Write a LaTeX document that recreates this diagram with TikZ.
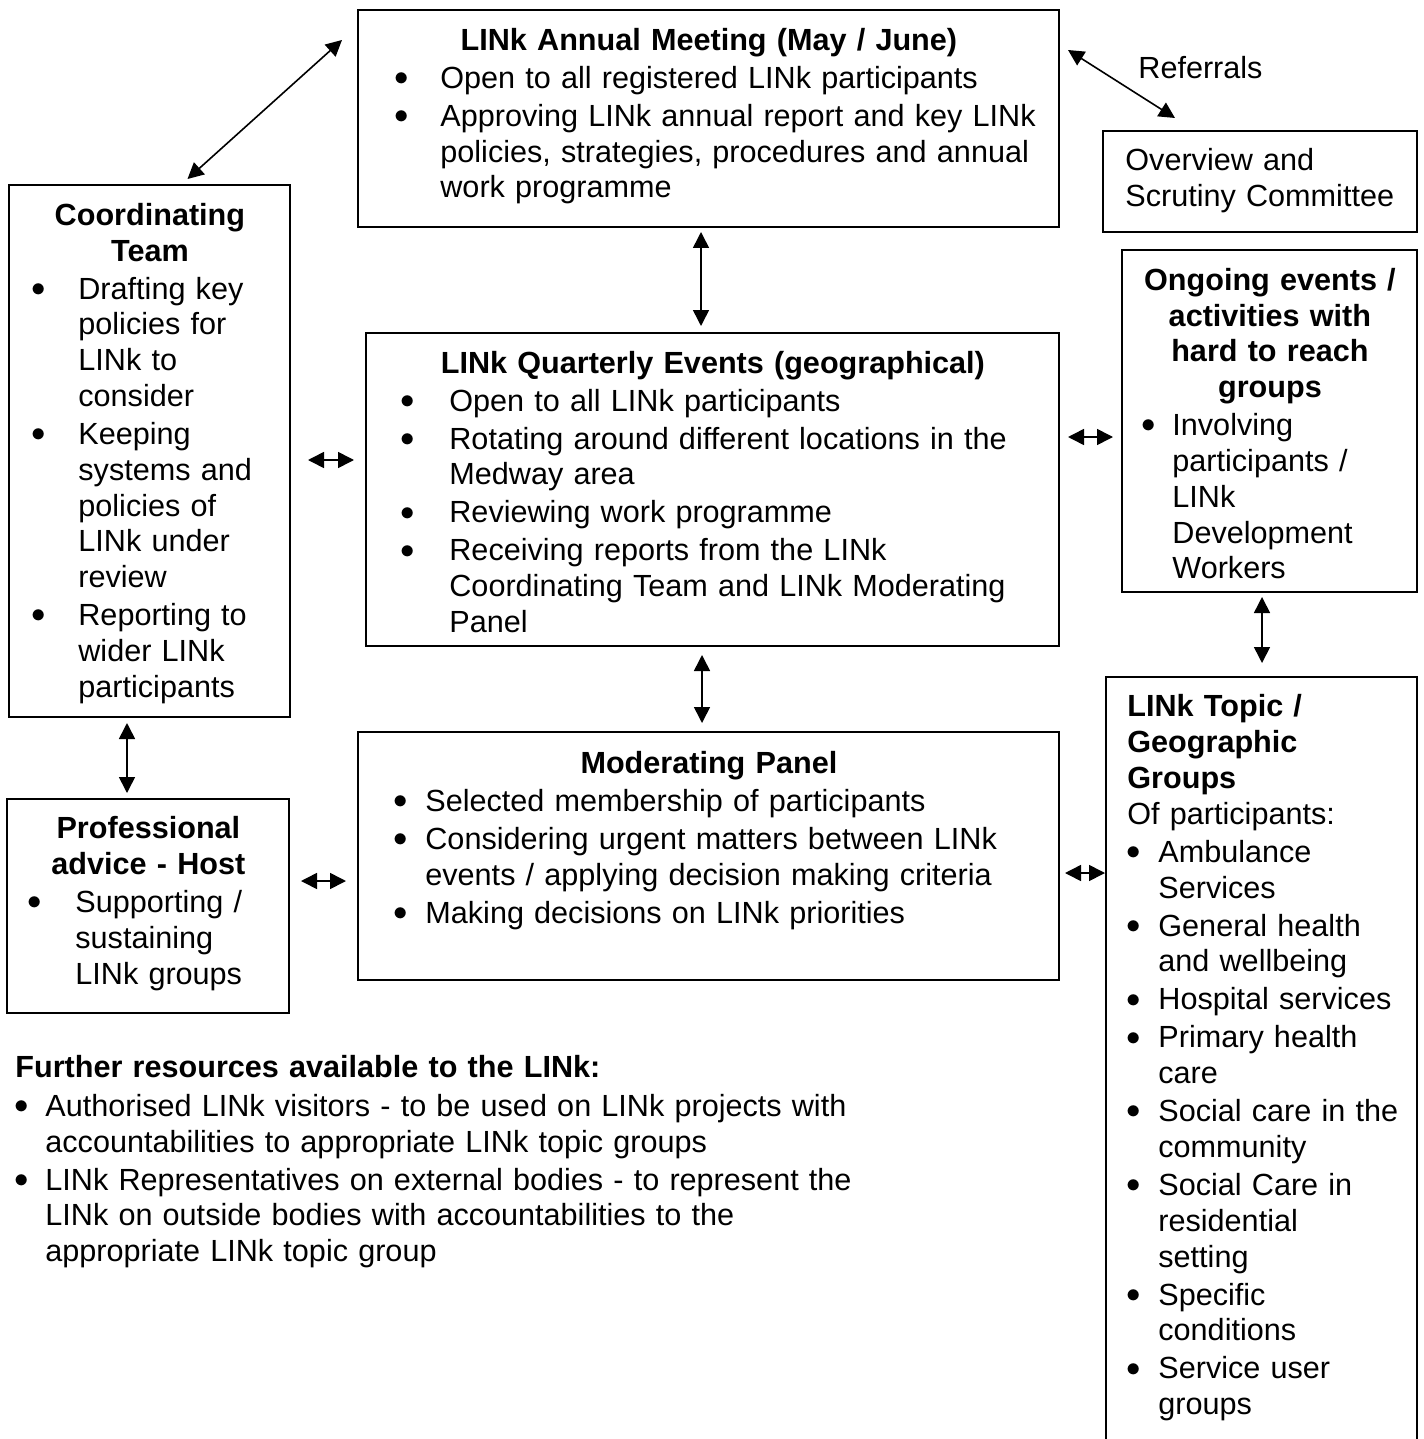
\documentclass[tikz,border=0pt]{standalone}
\usepackage{fontspec}
\setmainfont{Liberation Sans}
\usepackage{enumitem}
\usetikzlibrary{arrows.meta,calc}
\setlist[itemize]{label=\raisebox{1.4pt}{$\bullet$}, topsep=1.1pt, itemsep=1.1pt, parsep=0pt, partopsep=0pt}
\tikzstyle{panel}=[draw, line width=1pt, inner sep=0pt, outer sep=0pt]
\tikzstyle{blurb}=[anchor=north west, inner sep=0pt, align=left, font=\fontsize{15.3}{17.9}\selectfont]
\tikzstyle{link}=[<->, >={Triangle[length=8pt,width=8pt]}, line width=0.8pt]

\begin{document}
\begin{tikzpicture}[x=0.5pt, y=-0.5pt]
  \useasboundingbox (0,0) rectangle (1423,1439);
  \foreach \place/\name/\boxw/\boxh in {{(708.5,118.5)/annual/350.5/108.5},
                                       {(1260,181.5)/overview/157/50.5},
                                       {(1269.5,421)/ongoing/147.5/171},
                                       {(149.5,451)/coord/140.5/266},
                                       {(712.5,489.5)/quarterly/346.5/156.5},
                                       {(148,906)/professional/141/107},
                                       {(708.5,856)/moderating/350.5/124},
                                       {(1261.5,1068.5)/topic/155.5/391.5}}
    \node[panel, minimum width=\boxw pt, minimum height=\boxh pt] (\name) at \place {};
  \node[blurb, text width=340.5pt] (annualtext) at (368,24.9) {{\centering\bfseries\strut LINk Annual Meeting (May / June)\par}
    \begin{itemize}[leftmargin=36pt, labelsep=15.6pt]
    \item Open to all registered LINk participants
    \item Approving LINk annual report and key LINk\\policies, strategies, procedures and annual\\work programme
    \end{itemize}};
  \node[blurb, text width=145pt] (overviewtext) at (1125,144.9) {\strut Overview and\\Scrutiny Committee};
  \node[blurb, anchor=base west] (referrals) at (1138,79) {Referrals};
  \node[blurb, text width=132.5pt] (coordtext) at (17,199.9) {{\centering\bfseries\strut Coordinating\\Team\par}
    \begin{itemize}[leftmargin=30.5pt, labelsep=16.1pt]
    \item Drafting key\\policies for\\LINk to\\consider
    \item Keeping\\systems and\\policies of\\LINk under\\review
    \item Reporting to\\wider LINk\\participants
    \end{itemize}};
  \node[blurb, text width=338.5pt] (quarterlytext) at (374,347.6) {{\centering\bfseries\strut LINk Quarterly Events (geographical)\par}
    \begin{itemize}[leftmargin=37.5pt, labelsep=17.1pt]
    \item Open to all LINk participants
    \item Rotating around different locations in the\\Medway area
    \item Reviewing work programme
    \item Receiving reports from the LINk\\Coordinating Team and LINk Moderating\\Panel
    \end{itemize}};
  \node[blurb, text width=141.5pt] (ongoingtext) at (1128,264.9) {{\centering\bfseries\strut Ongoing events /\\activities with\\hard to reach\\groups\par}
    \begin{itemize}[leftmargin=22pt, labelsep=8.1pt]
    \item Involving\\participants /\\LINk\\Development\\Workers
    \end{itemize}};
  \node[blurb, text width=133pt] (professionaltext) at (15,813.4) {{\centering\bfseries\strut Professional\\advice - Host\par}
    \begin{itemize}[leftmargin=30pt, labelsep=16.6pt]
    \item Supporting /\\sustaining\\LINk groups
    \end{itemize}};
  \node[blurb, text width=342.5pt] (moderatingtext) at (366,747.8) {{\centering\bfseries\strut Moderating Panel\par}
    \begin{itemize}[leftmargin=29.5pt, labelsep=8.6pt]
    \item Selected membership of participants
    \item Considering urgent matters between LINk\\events / applying decision making criteria
    \item Making decisions on LINk priorities
    \end{itemize}};
  \node[blurb, text width=141.5pt] (topictext) at (1127,691.4) {{\bfseries\strut LINk Topic /\\Geographic\\Groups\par}
    Of participants:\par
    \begin{itemize}[leftmargin=15.5pt, labelsep=8.6pt]
    \item Ambulance\\Services
    \item General health\\and wellbeing
    \item Hospital services
    \item Primary health\\care
    \item Social care in the\\community
    \item Social Care in\\residential\\setting
    \item Specific\\conditions
    \item Service user\\groups
    \end{itemize}};
  \node[blurb, text width=425pt] (furthertext) at (15,1051.9) {{\bfseries\strut Further resources available to the LINk:\par}
    \begin{itemize}[leftmargin=15pt, labelsep=8.1pt, topsep=1.6pt]
    \item Authorised LINk visitors - to be used on LINk projects with\\accountabilities to appropriate LINk topic groups
    \item LINk Representatives on external bodies - to represent the\\LINk on outside bodies with accountabilities to the\\appropriate LINk topic group
    \end{itemize}};
  \foreach \src/\sx/\sy/\dst/\dx/\dy in {coord.north/38/-6/annual.north west/-16/30,
                                       annual.north east/9/40/overview.north/-85/-13,
                                       annual.south/-7.5/5/quarterly.north/-11.5/-7,
                                       quarterly.south/-10.5/9/moderating.north/-6.5/-9,
                                       coord.east/18/9/quarterly.west/-12/-29.5,
                                       quarterly.east/9/-52.5/ongoing.west/-9/16,
                                       coord.south/-22.5/6/professional.north/-21/-6,
                                       professional.east/12/-25/moderating.west/-12/25,
                                       ongoing.south/-7.5/5/topic.north/0.5/-14,
                                       moderating.east/6/17/topic.west/-1/-195.5}
    \draw[link] ($(\src)+(\sx,\sy)$) -- ($(\dst)+(\dx,\dy)$);
\end{tikzpicture}
\end{document}
